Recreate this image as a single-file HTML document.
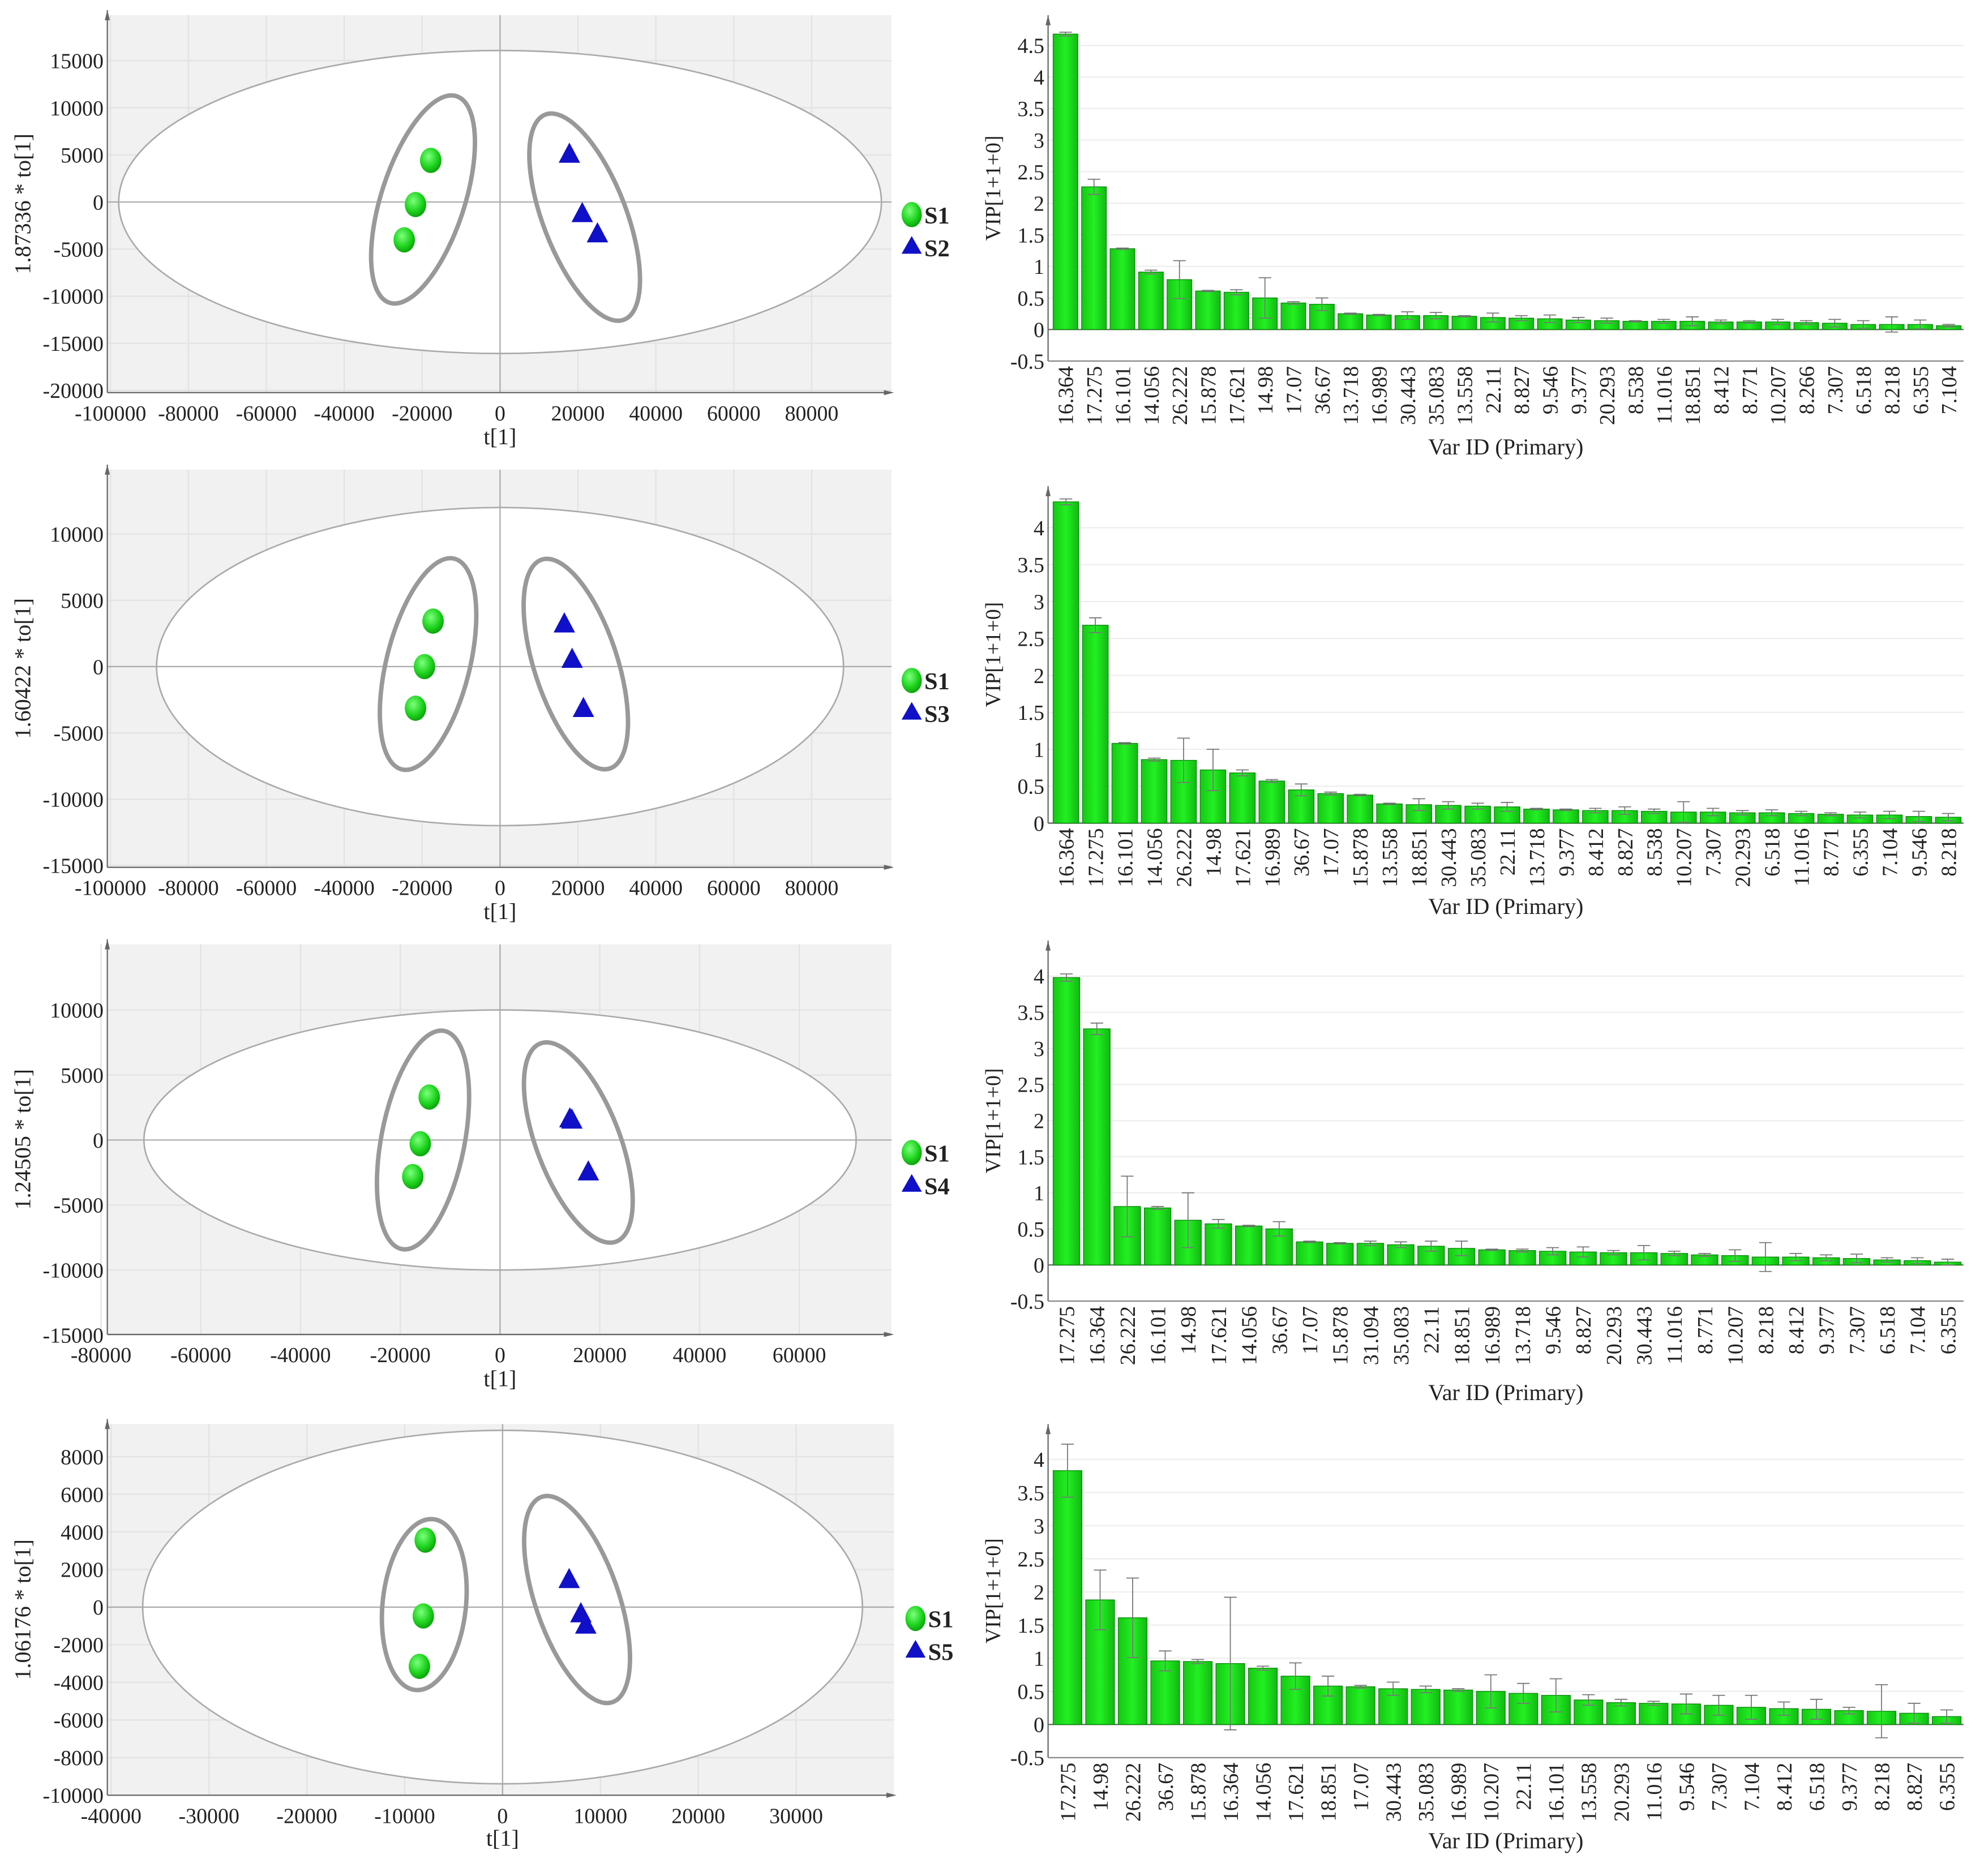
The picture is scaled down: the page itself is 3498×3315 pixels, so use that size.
<!DOCTYPE html>
<html><head><meta charset="utf-8"><style>
html,body{margin:0;padding:0;background:#fff}
svg{display:block}
text{font-family:"Liberation Serif","Times New Roman",serif;fill:#222}
</style></head><body>
<svg id="fig" width="3498" height="3315" viewBox="0 0 1568 1486" preserveAspectRatio="none" font-family="Liberation Serif, serif" xmlns="http://www.w3.org/2000/svg">
<defs>
<radialGradient id="gg" cx="0.4" cy="0.35" r="0.7"><stop offset="0" stop-color="#7dff7d"/><stop offset="0.6" stop-color="#1ed41e"/><stop offset="1" stop-color="#0a9a0a"/></radialGradient>
<linearGradient id="bg" x1="0" x2="1" y1="0" y2="0"><stop offset="0" stop-color="#14c814"/><stop offset="0.5" stop-color="#22f022"/><stop offset="1" stop-color="#12b812"/></linearGradient>
</defs>
</svg>
<script>
// ---------- scatter data ----------
const s1x_1=[-17800,-21700,-24600], s1y_1=[4420,-270,-4020];
const s2x_1=[17800,21100,25000], s2y_1=[5100,-1200,-3350];
const s1x_2=[-17200,-19400,-21700], s1y_2=[3430,0,-3140];
const s2x_2=[16500,18500,21400], s2y_2=[3240,570,-3140];
const s1x_3=[-14200,-16000,-17500], s1y_3=[3300,-290,-2810];
const s2x_3=[14000,14400,17700], s2y_3=[1650,1550,-2430];
const s1x_4=[-7900,-8100,-8500], s1y_4=[3560,-470,-3150];
const s2x_4=[6800,8000,8500], s2y_4=[1480,-340,-940];
const xt_1=[-100000,-80000,-60000,-40000,-20000,0,20000,40000,60000,80000];
const yt_1=[-20000,-15000,-10000,-5000,0,5000,10000,15000];
const xt_2=xt_1, yt_2=[-15000,-10000,-5000,0,5000,10000];
const xt_3=[-80000,-60000,-40000,-20000,0,20000,40000,60000], yt_3=[-15000,-10000,-5000,0,5000,10000];
const xt_4=[-40000,-30000,-20000,-10000,0,10000,20000,30000], yt_4=[-10000,-8000,-6000,-4000,-2000,0,2000,4000,6000,8000];
const groups=["S1","S2","S3","S4","S5"];
const ylabels=["1.87336 * to[1]","1.60422 * to[1]","1.24505 * to[1]","1.06176 * to[1]"];
// ---------- VIP bar data ----------
const cat_1=["16.364","17.275","16.101","14.056","26.222","15.878","17.621","14.98","17.07","36.67","13.718","16.989","30.443","35.083","13.558","22.11","8.827","9.546","9.377","20.293","8.538","11.016","18.851","8.412","8.771","10.207","8.266","7.307","6.518","8.218","6.355","7.104"];
const vip_1=[4.68,2.26,1.28,0.91,0.79,0.61,0.59,0.50,0.42,0.40,0.25,0.23,0.22,0.22,0.21,0.19,0.18,0.17,0.15,0.14,0.13,0.13,0.13,0.12,0.12,0.12,0.11,0.10,0.08,0.08,0.08,0.06];
const err_1=[0.03,0.12,0.01,0.03,0.3,0.01,0.04,0.32,0.02,0.1,0.01,0.01,0.06,0.05,0.01,0.07,0.04,0.06,0.04,0.04,0.01,0.03,0.07,0.03,0.02,0.04,0.03,0.06,0.06,0.12,0.07,0.02];
const cat_2=["16.364","17.275","16.101","14.056","26.222","14.98","17.621","16.989","36.67","17.07","15.878","13.558","18.851","30.443","35.083","22.11","13.718","9.377","8.412","8.827","8.538","10.207","7.307","20.293","6.518","11.016","8.771","6.355","7.104","9.546","8.218"];
const vip_2=[4.35,2.68,1.08,0.86,0.85,0.72,0.68,0.57,0.45,0.40,0.38,0.26,0.25,0.24,0.23,0.22,0.19,0.18,0.17,0.17,0.16,0.15,0.15,0.14,0.14,0.13,0.12,0.11,0.11,0.09,0.08];
const err_2=[0.04,0.1,0.01,0.02,0.3,0.28,0.04,0.02,0.08,0.02,0.01,0.01,0.08,0.05,0.04,0.06,0.01,0.01,0.03,0.05,0.03,0.14,0.05,0.03,0.04,0.03,0.02,0.04,0.05,0.07,0.05];
const cat_3=["17.275","16.364","26.222","16.101","14.98","17.621","14.056","36.67","17.07","15.878","31.094","35.083","22.11","18.851","16.989","13.718","9.546","8.827","20.293","30.443","11.016","8.771","10.207","8.218","8.412","9.377","7.307","6.518","7.104","6.355"];
const vip_3=[3.98,3.27,0.81,0.79,0.62,0.57,0.54,0.50,0.32,0.30,0.30,0.28,0.26,0.23,0.21,0.20,0.19,0.18,0.17,0.17,0.16,0.14,0.13,0.11,0.11,0.10,0.09,0.07,0.06,0.04];
const err_3=[0.05,0.08,0.42,0.02,0.38,0.06,0.01,0.1,0.01,0.01,0.03,0.04,0.07,0.1,0.01,0.02,0.05,0.07,0.03,0.1,0.03,0.02,0.08,0.2,0.05,0.04,0.06,0.03,0.04,0.04];
const cat_4=["17.275","14.98","26.222","36.67","15.878","16.364","14.056","17.621","18.851","17.07","30.443","35.083","16.989","10.207","22.11","16.101","13.558","20.293","11.016","9.546","7.307","7.104","8.412","6.518","9.377","8.218","8.827","6.355"];
const vip_4=[3.83,1.88,1.61,0.96,0.95,0.92,0.85,0.73,0.58,0.57,0.54,0.53,0.52,0.50,0.47,0.44,0.37,0.33,0.32,0.31,0.29,0.26,0.24,0.23,0.21,0.20,0.17,0.12];
const err_4=[0.4,0.45,0.6,0.15,0.03,1.0,0.03,0.2,0.15,0.02,0.1,0.05,0.02,0.25,0.15,0.25,0.08,0.05,0.03,0.15,0.15,0.18,0.1,0.15,0.05,0.4,0.15,0.1];
const vipTicks_a=[-0.5,0,0.5,1,1.5,2,2.5,3,3.5,4,4.5];
const vipTicks_b=[0,0.5,1,1.5,2,2.5,3,3.5,4];
const vipTicks_c=[-0.5,0,0.5,1,1.5,2,2.5,3,3.5,4];

const NS="http://www.w3.org/2000/svg";
const svg=document.getElementById('fig');
function mk(tag,attrs,parent){const e=document.createElementNS(NS,tag);for(const k in attrs)e.setAttribute(k,attrs[k]);(parent||svg).appendChild(e);return e;}
function txt(s,attrs,parent){const e=mk('text',attrs,parent);e.textContent=s;return e;}

const SP=[
 {L:85,R:706,T:12,B:311,x0:396,xpx:61.7/20000,y0:160,ypx:37.3/5000,ell:[396,160,302,120],le:[335,158,86,33,18],re:[463,172,87,33,-21],xs:[s1x_1,s2x_1],ys:[s1y_1,s2y_1],xt:xt_1,yt:yt_1,g:1,legY:170,xlabY:352,legX:722},
 {L:85,R:706,T:372,B:687,x0:396,xpx:61.7/20000,y0:528,ypx:52.5/5000,ell:[396,528,272,126],le:[339,526,86,33,14],re:[456,526,87,33,-18],xs:[s1x_2,s2x_2],ys:[s1y_2,s2y_2],xt:xt_2,yt:yt_2,g:2,legY:539,xlabY:728,legX:722},
 {L:85,R:706,T:748,B:1057,x0:396,xpx:79/20000,y0:903,ypx:51.5/5000,ell:[396,903,282,103],le:[335,903,88,33,11],re:[458,905,84,33,-21],xs:[s1x_3,s2x_3],ys:[s1y_3,s2y_3],xt:xt_3,yt:yt_3,g:3,legY:913,xlabY:1098,legX:722},
 {L:85,R:708,T:1128,B:1422,x0:398,xpx:77.5/10000,y0:1273,ypx:29.8/2000,ell:[398,1273,285,140],le:[336,1271,68,33,6],re:[457,1267,86,33,-19],xs:[s1x_4,s2x_4],ys:[s1y_4,s2y_4],xt:xt_4,yt:yt_4,g:4,legY:1282,xlabY:1462,legX:725}
];
SP.forEach((p,i)=>{
 const g=mk('g',{});
 
 
 const X=v=>p.x0+v*p.xpx, Y=v=>p.y0-v*p.ypx;
 mk('rect',{x:p.L,y:p.T,width:p.R-p.L,height:p.B-p.T,fill:'#f1f1f1'},g);
 p.xt.forEach(v=>mk('line',{x1:X(v),x2:X(v),y1:p.T,y2:p.B,stroke:'#e2e2e2','stroke-width':1},g));
 p.yt.forEach(v=>mk('line',{x1:p.L,x2:p.R,y1:Y(v),y2:Y(v),stroke:'#e2e2e2','stroke-width':1},g));
 const e=p.ell;
 const he=mk('ellipse',{cx:e[0],cy:e[1],rx:e[2],ry:e[3],fill:'#fff',stroke:'#aaa','stroke-width':1.2},g);
 
 
 mk('line',{x1:p.L,x2:p.R,y1:Y(0),y2:Y(0),stroke:'#aaa','stroke-width':1},g);
 mk('line',{x1:X(0),x2:X(0),y1:p.T,y2:p.B,stroke:'#aaa','stroke-width':1},g);
 mk('line',{x1:p.L,x2:p.L,y1:p.T-4,y2:p.B,stroke:'#666','stroke-width':1},g);
 mk('line',{x1:p.L,x2:p.R,y1:p.B,y2:p.B,stroke:'#666','stroke-width':1},g);
 mk('path',{d:`M${p.L-2},${p.T+4} L${p.L},${p.T-4} L${p.L+2},${p.T+4}Z`,fill:'#666'},g);
 mk('path',{d:`M${p.R-6},${p.B-2} L${p.R+2},${p.B} L${p.R-6},${p.B+2}Z`,fill:'#666'},g);
 p.xt.forEach(v=>{const t=txt(String(v),{x:X(v),y:p.B+22,'text-anchor':'middle','font-size':17},g);});
 p.yt.forEach(v=>{const t=txt(String(v),{x:p.L-3,y:Y(v)+6,'text-anchor':'end','font-size':17},g);});
 const xl=txt('t[1]',{x:X(0),y:p.xlabY,'text-anchor':'middle','font-size':18},g);
 
 
 const yc=(p.T+p.B)/2;
 const yl=txt(ylabels[i],{x:0,y:0,'text-anchor':'middle','font-size':18,transform:`translate(24,${yc}) rotate(-90)`},g);
 
 
 [p.le,p.re].forEach((c,k)=>{const el=mk('ellipse',{cx:c[0],cy:c[1],rx:c[3],ry:c[2],fill:'none',stroke:'#999','stroke-width':3.5,transform:`rotate(${c[4]} ${c[0]} ${c[1]})`},g);
  
  });
 p.xs[0].forEach((v,j)=>{const c=mk('ellipse',{cx:X(v),cy:Y(p.ys[0][j]),rx:8.5,ry:10,fill:'url(#gg)'},g);
  
  });
 p.xs[1].forEach((v,j)=>{const x=X(v),y=Y(p.ys[1][j]);const t=mk('path',{d:`M${x},${y-9} L${x+8.5},${y+7} L${x-8.5},${y+7}Z`,fill:'#1010c8'},g);
  
  });
 const lg=mk('g',{},g);
 
 
 mk('ellipse',{cx:p.legX,cy:p.legY,rx:8,ry:10,fill:'url(#gg)'},lg);
 txt(groups[0],{x:p.legX+10,y:p.legY+7,'font-size':19,'font-weight':'bold'},lg);
 const ty=p.legY+26;
 mk('path',{d:`M${p.legX},${ty-9} L${p.legX+8},${ty+5} L${p.legX-8},${ty+5}Z`,fill:'#1010c8'},lg);
 txt(groups[p.g],{x:p.legX+10,y:ty+7,'font-size':19,'font-weight':'bold'},lg);
});

const BP=[
 {cats:cat_1,vals:vip_1,errs:err_1,ticks:vipTicks_a,L:830,R:1555,T:12,y0:261,ppu:50,ymin:-0.5,xlab:360},
 {cats:cat_2,vals:vip_2,errs:err_2,ticks:vipTicks_b,L:830,R:1555,T:385,y0:652,ppu:58.5,ymin:0,xlab:724},
 {cats:cat_3,vals:vip_3,errs:err_3,ticks:vipTicks_c,L:830,R:1555,T:745,y0:1002,ppu:57.2,ymin:-0.5,xlab:1109},
 {cats:cat_4,vals:vip_4,errs:err_4,ticks:vipTicks_c,L:830,R:1555,T:1128,y0:1366,ppu:52.5,ymin:-0.5,xlab:1464}
];
BP.forEach((p,i)=>{
 const g=mk('g',{});
 
 
 const Y=v=>p.y0-v*p.ppu;
 const B=Y(p.ymin);
 p.ticks.forEach(v=>{if(v>0)mk('line',{x1:p.L,x2:p.R,y1:Y(v),y2:Y(v),stroke:'#eee','stroke-width':1},g);});
 mk('line',{x1:p.L,x2:p.L,y1:p.T,y2:B,stroke:'#666','stroke-width':1},g);
 mk('path',{d:`M${p.L-2},${p.T+8} L${p.L},${p.T} L${p.L+2},${p.T+8}Z`,fill:'#666'},g);
 mk('line',{x1:p.L,x2:p.R,y1:B,y2:B,stroke:'#888','stroke-width':1},g);
 mk('line',{x1:p.L,x2:p.R,y1:Y(0),y2:Y(0),stroke:'#666','stroke-width':1},g);
 p.ticks.forEach(v=>{const t=txt(String(v),{x:p.L-3,y:Y(v)+6,'text-anchor':'end','font-size':17},g);});
 const n=p.cats.length, w=(p.R-p.L-3)/n;
 p.vals.forEach((v,j)=>{
  const x=p.L+3+j*w;
  const r=mk('rect',{x:x+1,y:Y(v),width:w-3,height:Y(0)-Y(v),fill:'url(#bg)',stroke:'#0a8a0a','stroke-width':0.6},g);
  
  
  const cx=x+w/2-0.5, e=p.errs[j];
  mk('path',{d:`M${cx},${Y(v+e)}V${Y(v-e)}M${cx-5},${Y(v+e)}H${cx+5}M${cx-5},${Y(v-e)}H${cx+5}`,stroke:'#777','stroke-width':0.8,fill:'none'},g);
  const t=txt(p.cats[j],{x:0,y:0,'text-anchor':'end','font-size':17,transform:`translate(${cx+6},${B+4}) rotate(-90)`},g);
  
  
 });
 const xl=txt('Var ID (Primary)',{x:(p.L+p.R)/2,y:p.xlab,'text-anchor':'middle','font-size':18},g);
 
 
 const yc=(p.T+B)/2;
 const yl=txt('VIP[1+1+0]',{x:0,y:0,'text-anchor':'middle','font-size':17,transform:`translate(792,${yc}) rotate(-90)`},g);
 
 
});
</script>
</body></html>
